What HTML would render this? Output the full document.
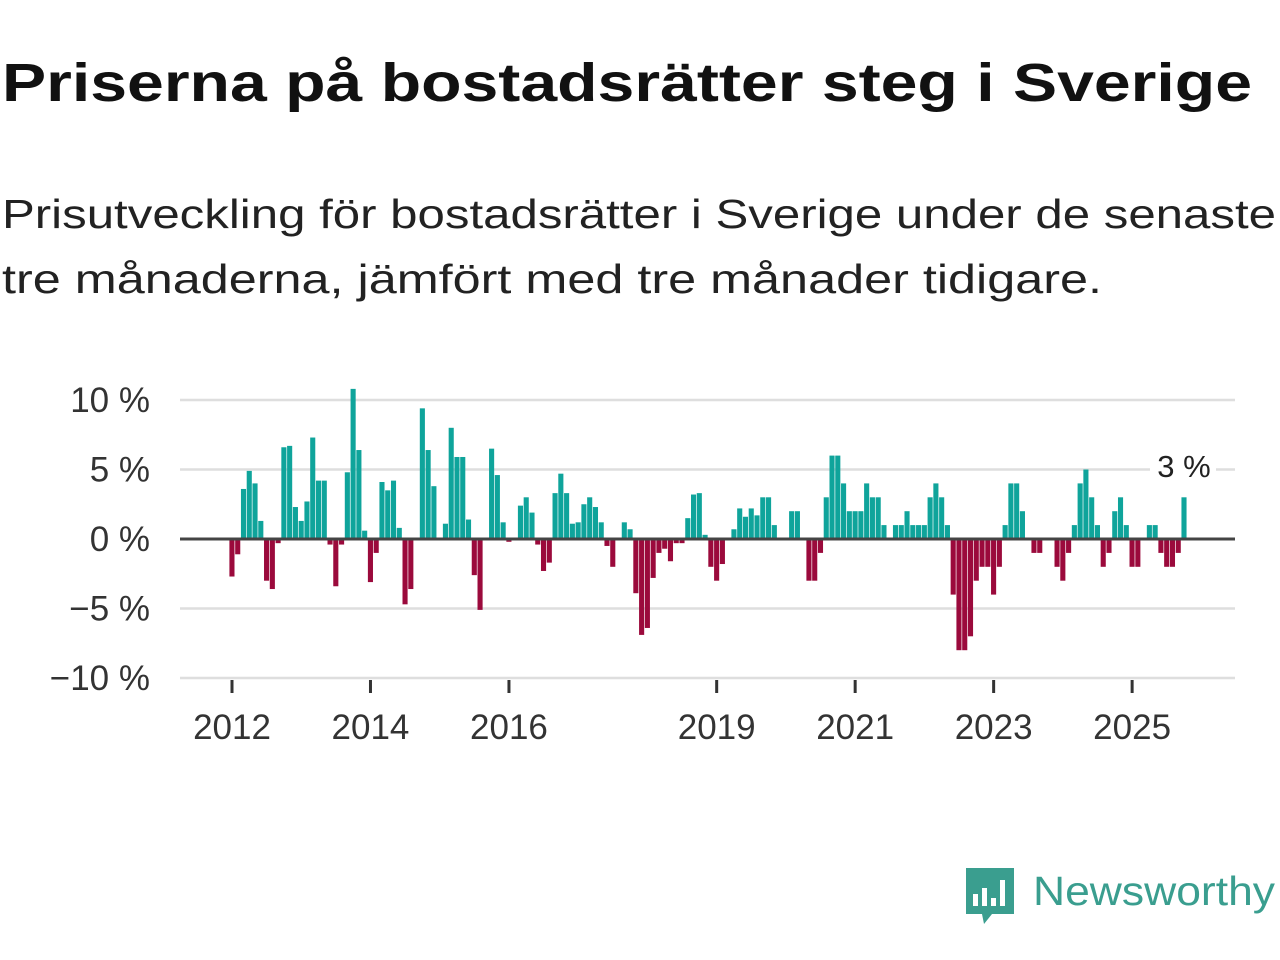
<!DOCTYPE html>
<html><head><meta charset="utf-8"><style>
html,body{margin:0;padding:0;background:#fff;width:1280px;height:960px;overflow:hidden}
svg{display:block}
</style></head><body>
<svg id="chart" width="1280" height="960" xmlns="http://www.w3.org/2000/svg" font-family="Liberation Sans, sans-serif">
<text x="2" y="101" font-size="54" font-weight="bold" fill="#111" textLength="1250" lengthAdjust="spacingAndGlyphs">Priserna på bostadsrätter steg i Sverige</text>
<text x="2" y="228" font-size="41" fill="#222" textLength="1274" lengthAdjust="spacingAndGlyphs">Prisutveckling för bostadsrätter i Sverige under de senaste</text>
<text x="2" y="293" font-size="41" fill="#222" textLength="1100" lengthAdjust="spacingAndGlyphs">tre månaderna, jämfört med tre månader tidigare.</text>
<g id="grid"></g><g id="bars"></g><g id="axes"></g>
<g>
<path d="M966,868 h48 v46 h-22 l-8,10 l-2,-10 h-16 z" fill="#3a9e8f"/>
<rect x="973" y="894" width="5" height="12" fill="#fff"/><rect x="982" y="888" width="5" height="18" fill="#fff"/><rect x="991" y="898" width="5" height="8" fill="#fff"/><rect x="1000" y="880" width="5" height="26" fill="#fff"/>
<text x="1033" y="905" font-size="41" fill="#3a9e8f" textLength="242" lengthAdjust="spacingAndGlyphs">Newsworthy</text>
</g>
</svg>
<script>
const values = [-2.7,-1.1,3.6,4.9,4.0,1.3,-3.0,-3.6,-0.3,6.6,6.7,2.3,1.3,2.7,7.3,4.2,4.2,-0.4,-3.4,-0.4,4.8,10.8,6.4,0.6,-3.1,-1.0,4.1,3.5,4.2,0.8,-4.7,-3.6,
0,9.4,6.4,3.8,-0.1,1.1,8.0,5.9,5.9,1.4,-2.6,-5.1,0,6.5,4.6,1.2,
-0.2,0,2.4,3.0,1.9,-0.4,-2.3,-1.7,3.3,4.7,3.3,1.1,1.2,2.5,3.0,2.3,1.2,-0.5,-2.0,0,1.2,0.7,-3.9,-6.9,-6.4,-2.8,-1.0,-0.7,-1.6,-0.3,-0.3,1.5,3.2,3.3,0.3,-2.0,
-3.0,-1.8,0,0.7,2.2,1.6,2.2,1.7,3.0,3.0,1.0,0,0,2,2,0,-3,-3,-1,3,6,6,4,2,2,2,4,3,3,1,0,1,1,2,1,1,1,3,4,3,1,-4,-8,-8,-7,-3,-2,-2,
-4,-2,1,4,4,2,0,-1,-1,0,0,-2,-3,-1,1,4,5,3,1,-2,-1,2,3,1,-2,-2,0,1,1,-1,-2,-2,-1,3];
const yTicks = [10,5,0,-5,-10];
const yTickLabels = ["10 %","5 %","0 %","\u22125 %","\u221210 %"];
const xYears = [2012,2014,2016,2019,2021,2023,2025];
const lastLabel = "3 %";
const NS="http://www.w3.org/2000/svg";
const x0=232, mw=5.77, y0=539, pp=13.9;
const X=i=>x0+i*mw, Y=v=>y0-v*pp;
function mk(t,a,p){const e=document.createElementNS(NS,t);for(const k in a)e.setAttribute(k,a[k]);p.appendChild(e);return e;}
const g=document.getElementById('grid'),b=document.getElementById('bars'),ax=document.getElementById('axes');
yTicks.forEach((v,k)=>{
 if(v!==0){const l=mk('line',{x1:180,x2:1235,y1:Y(v),y2:Y(v),stroke:'#dedede','stroke-width':2.5},g);
 
 }
 const t=mk('text',{x:150,y:Y(v)+12,'font-size':35,'text-anchor':'end',fill:'#333'},ax);t.textContent=yTickLabels[k];
 
 
});
values.forEach((v,i)=>{
 if(v===0)return;
 const r=mk('rect',{x:X(i)-2.6,width:5.1,y:Math.min(Y(v),y0),height:Math.abs(v)*pp,fill:v>0?'#0fa49b':'#9b0a3c'},b);
 
 
});
const z=mk('line',{x1:180,x2:1235,y1:y0,y2:y0,stroke:'#444','stroke-width':3},ax);


xYears.forEach(yr=>{
 const x=X((yr-2012)*12);
 const tk=mk('line',{x1:x,x2:x,y1:680,y2:693,stroke:'#333','stroke-width':3},ax);
 
 
 const t=mk('text',{x:x,y:739,'font-size':35,'text-anchor':'middle',fill:'#333'},ax);t.textContent=yr;
 
 
});
const bg=mk('rect',{x:1150,y:449,width:66,height:36,fill:'#fff'},ax);


const lt=mk('text',{x:1184,y:477,'font-size':31,'text-anchor':'middle',fill:'#222'},ax);lt.textContent=lastLabel;


</script>
</body></html>
